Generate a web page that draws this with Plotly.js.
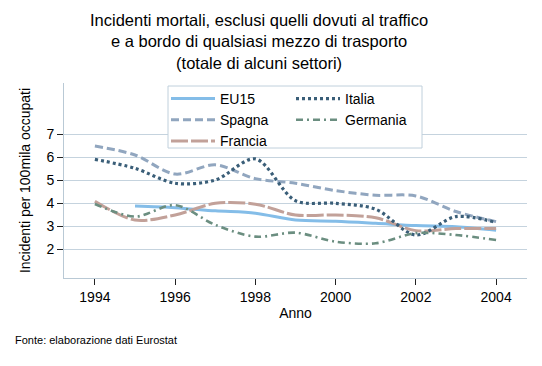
<!DOCTYPE html>
<html>
<head>
<meta charset="utf-8">
<script src="https://cdn.plot.ly/plotly-3.0.1.min.js"></script>
<style>html,body{margin:0;padding:0;background:#fff;}#chart{width:542px;height:366px;}</style>
</head>
<body>
<div id="chart"></div>
<script>
const years = [1994, 1995, 1996, 1997, 1998, 1999, 2000, 2001, 2002, 2003, 2004];
const eu15 = [null, 3.88, 3.81, 3.67, 3.57, 3.27, 3.22, 3.13, 3.03, 2.98, 2.83];
const spagna = [6.49, 6.10, 5.27, 5.67, 5.07, 4.87, 4.55, 4.35, 4.32, 3.64, 3.20];
const italia = [5.91, 5.52, 4.87, 5.01, 5.93, 4.11, 4.00, 3.74, 2.62, 3.42, 3.16];
const francia = [4.09, 3.27, 3.49, 4.00, 3.96, 3.49, 3.49, 3.37, 2.81, 2.90, 2.90];
const germania = [3.97, 3.42, 3.92, 3.06, 2.55, 2.72, 2.33, 2.26, 2.70, 2.62, 2.40];
const xTicks = [1994, 1996, 1998, 2000, 2002, 2004];
const yTicks = [2, 3, 4, 5, 6, 7];

const FONT = 'Arial, "Liberation Sans", sans-serif';
function tr(name, y, color, dash, width, legend) {
  return {x: years, y: y, name: name, type: 'scatter', mode: 'lines',
    line: {color: color, dash: dash, width: width, shape: 'spline', smoothing: 0.9},
    connectgaps: false, legend: legend, hoverinfo: 'skip'};
}
const data = [
  tr('EU15', eu15, '#84bde8', 'solid', 3, 'legend'),
  tr('Spagna', spagna, '#91a6bf', '8px,4px', 3, 'legend'),
  tr('Francia', francia, '#c2a199', '17px,3px', 3, 'legend'),
  tr('Italia', italia, '#3a5e78', '3px,3px', 3.2, 'legend2'),
  tr('Germania', germania, '#6b8e80', '7px,4px,2px,4px', 2.6, 'legend2')
];
const legendBase = {xanchor: 'left', yanchor: 'top', bgcolor: 'rgba(0,0,0,0)', borderwidth: 0,
  itemwidth: 44, tracegroupgap: 0, font: {family: FONT, size: 14, color: '#000'}};
const layout = {
  width: 542, height: 366,
  paper_bgcolor: '#fff', plot_bgcolor: '#fff',
  margin: {l: 64, r: 15, t: 83, b: 88},
  font: {family: FONT, size: 14, color: '#000'},
  title: {text: 'Incidenti mortali, esclusi quelli dovuti al traffico<br>e a bordo di qualsiasi mezzo di trasporto<br>(totale di alcuni settori)',
    font: {family: FONT, size: 16.5, color: '#000'}, x: 0.478, xanchor: 'center', xref: 'container',
    y: 1 - 26 / 366, yanchor: 'top', yref: 'container'},
  showlegend: true,
  legend: Object.assign({}, legendBase, {x: (166 - 64) / 463, y: (278 - 83) / 195}),
  legend2: Object.assign({}, legendBase, {x: (291 - 64) / 463, y: (278 - 83) / 195}),
  xaxis: {range: [1993.23, 2004.77], tickvals: xTicks, ticktext: xTicks.map(String),
    ticks: 'outside', ticklen: 6, tickcolor: '#222', tickwidth: 1,
    showline: true, linecolor: '#b9c9d5', linewidth: 1, showgrid: false, zeroline: false,
    tickfont: {family: FONT, size: 14, color: '#000'},
    title: {text: 'Anno', font: {family: FONT, size: 14, color: '#000'}, standoff: 4}},
  yaxis: {range: [0.75, 9.23], tickvals: yTicks, ticktext: yTicks.map(String),
    ticks: 'outside', ticklen: 6, tickcolor: '#222', tickwidth: 1,
    showline: true, linecolor: '#b9c9d5', linewidth: 1, showgrid: true, gridcolor: '#c5d3de', gridwidth: 1,
    zeroline: false, tickfont: {family: FONT, size: 14, color: '#000'},
    title: {text: 'Incidenti per 100mila occupati', font: {family: FONT, size: 14, color: '#000'}, standoff: 12}},
  shapes: [{type: 'rect', xref: 'paper', yref: 'paper', layer: 'above',
    x0: (168 - 64) / 463, x1: (422 - 64) / 463, y0: (278 - 148) / 195, y1: (278 - 86) / 195,
    fillcolor: '#fff', line: {color: '#c0d0dc', width: 1}}],
  annotations: [{text: 'Fonte: elaborazione dati Eurostat', xref: 'paper', yref: 'paper',
    x: (13 - 64) / 463, y: (278 - 340) / 195, xanchor: 'left', yanchor: 'middle', showarrow: false,
    font: {family: FONT, size: 11, color: '#000'}}]
};
Plotly.newPlot('chart', data, layout, {staticPlot: true, displayModeBar: false});
</script>
</body>
</html>
